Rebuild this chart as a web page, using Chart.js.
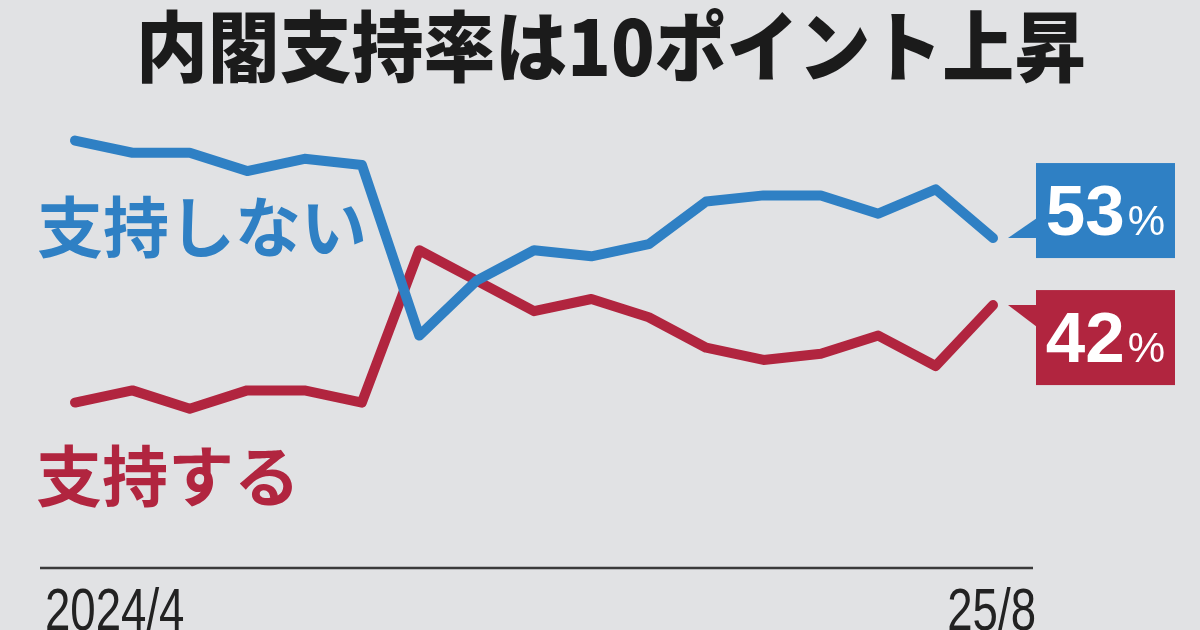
<!DOCTYPE html>
<html lang="ja">
<head>
<meta charset="utf-8">
<script src="https://cdn.jsdelivr.net/npm/chart.js"></script>
<style>
  html, body { margin: 0; padding: 0; background: #e1e2e4; }
  #wrap { width: 1200px; height: 630px; }
</style>
</head>
<body>
<div id="wrap"><canvas id="pollChart" width="1200" height="630"></canvas></div>
<script>
// 日経世論調査 2024/4 - 2025/8
const months = ['2024/4', '2024/5', '2024/6', '2024/7', '2024/8', '2024/9', '2024/10', '2024/11', '2024/12',
  '25/1', '25/2', '25/3', '25/4', '25/5', '25/6', '25/7', '25/8'];
const supportRate = [26, 28, 25, 28, 28, 26, 51, 46, 41, 43, 40, 35, 33, 34, 37, 32, 42];
const nonSupportRate = [69, 67, 67, 64, 66, 65, 37, 46, 51, 50, 52, 59, 60, 60, 57, 61, 53];
const tickLabels = ['2024/4', '25/8'];
const seriesNames = ['支持しない', '支持する'];

const BLUE = '#2f80c4';
const RED = '#b1253f';
const BG = '#e1e2e4';
const JP = '"Noto Sans CJK JP", "Noto Sans", sans-serif';

const decorPlugin = {
  id: 'decor',
  beforeDraw(chart) {
    const ctx = chart.ctx;
    ctx.save();
    ctx.fillStyle = BG;
    ctx.fillRect(0, 0, chart.width, chart.height);
    ctx.restore();
  },
  beforeDatasetsDraw(chart) {
    const ctx = chart.ctx;
    ctx.save();
    // title, slightly condensed
    const title = '内閣支持率は10ポイント上昇';
    ctx.fillStyle = '#1b1b1b';
    ctx.font = '900 77px ' + JP;
    ctx.textAlign = 'center';
    ctx.textBaseline = 'middle';
    const tw = ctx.measureText(title).width;
    const ts = Math.min(1, 950 / tw);
    ctx.save();
    ctx.translate(611, 47);
    ctx.scale(ts, 1);
    ctx.fillText(title, 0, 0);
    ctx.restore();

    // series names
    ctx.textAlign = 'left';
    ctx.font = '700 66px ' + JP;
    ctx.fillStyle = BLUE;
    ctx.fillText(seriesNames[0], 37, 227);
    ctx.fillStyle = RED;
    ctx.fillText(seriesNames[1], 36, 476);

    // axis line
    const x = chart.scales.x;
    ctx.strokeStyle = '#3a3a3a';
    ctx.lineWidth = 2.5;
    ctx.beginPath();
    ctx.moveTo(x.left - 35, 568);
    ctx.lineTo(x.right + 40, 568);
    ctx.stroke();

    // tick labels (condensed)
    ctx.fillStyle = '#222';
    ctx.font = '400 60px "Liberation Sans Narrow", "Liberation Sans", sans-serif';
    ctx.textBaseline = 'alphabetic';
    const sx = 0.76;
    const firstX = x.getPixelForValue(0) - 30;
    const lastX = x.getPixelForValue(months.length - 1) + 43;
    ctx.save();
    ctx.scale(sx, 1);
    ctx.textAlign = 'left';
    ctx.fillText(tickLabels[0], firstX / sx, 630);
    ctx.textAlign = 'right';
    ctx.fillText(tickLabels[1], lastX / sx, 630);
    ctx.restore();
    ctx.restore();
  },
  afterDatasetsDraw(chart) {
    const ctx = chart.ctx;
    const drawCallout = (idx, color, above) => {
      const meta = chart.getDatasetMeta(idx);
      const pt = meta.data[meta.data.length - 1];
      const val = chart.data.datasets[idx].data[meta.data.length - 1];
      const bx = pt.x + 43, bw = 139, bh = 95;
      const by = above ? pt.y + 20 - bh : pt.y - 15;
      ctx.save();
      ctx.fillStyle = color;
      ctx.fillRect(bx, by, bw, bh);
      ctx.beginPath();
      ctx.moveTo(pt.x + 15, pt.y);
      ctx.lineTo(bx + 1, pt.y);
      ctx.lineTo(bx + 1, above ? pt.y - 20 : pt.y + 22);
      ctx.closePath();
      ctx.fill();
      // value text
      ctx.fillStyle = '#fff';
      ctx.textBaseline = 'alphabetic';
      ctx.textAlign = 'left';
      const big = '700 71px "Liberation Sans", Arial, sans-serif';
      const small = '400 42px "Liberation Sans", Arial, sans-serif';
      const num = String(val);
      ctx.font = big;
      const w1 = ctx.measureText(num).width;
      ctx.font = small;
      const w2 = ctx.measureText('%').width;
      const tx = bx + (bw - w1 - w2 - 3) / 2;
      const base = by + bh - 23;
      ctx.font = big;
      ctx.fillText(num, tx, base);
      ctx.font = small;
      ctx.fillText('%', tx + w1 + 3, base);
      ctx.restore();
    };
    drawCallout(0, BLUE, true);
    drawCallout(1, RED, false);
  }
};

new Chart(document.getElementById('pollChart').getContext('2d'), {
  type: 'line',
  data: {
    labels: months,
    datasets: [
      {
        label: seriesNames[0],
        data: nonSupportRate,
        borderColor: BLUE,
        borderWidth: 10,
        pointRadius: 0,
        tension: 0,
        borderCapStyle: 'round',
        borderJoinStyle: 'round',
        clip: false
      },
      {
        label: seriesNames[1],
        data: supportRate,
        borderColor: RED,
        borderWidth: 10,
        pointRadius: 0,
        tension: 0,
        borderCapStyle: 'round',
        borderJoinStyle: 'round',
        clip: false
      }
    ]
  },
  options: {
    responsive: false,
    animation: false,
    devicePixelRatio: 1,
    layout: { padding: { left: 75, right: 207, top: 104, bottom: 69 } },
    scales: {
      x: { display: false },
      y: { display: false, min: 0, max: 75 }
    },
    plugins: {
      legend: { display: false },
      tooltip: { enabled: false },
      title: { display: false }
    }
  },
  plugins: [decorPlugin]
});
</script>
</body>
</html>
